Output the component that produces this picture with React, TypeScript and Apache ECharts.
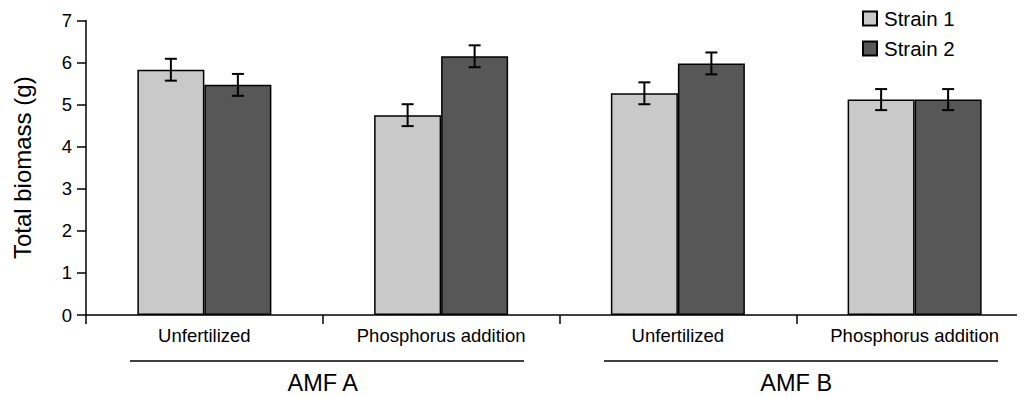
import React, { useEffect, useRef } from "react";
import * as echarts from "echarts";

const categories = ["Unfertilized", "Phosphorus addition", "Unfertilized", "Phosphorus addition"];
const groups = ["AMF A", "AMF B"];
const strain1 = [5.83, 4.75, 5.27, 5.12];
const strain2 = [5.47, 6.15, 5.98, 5.12];
const err1 = [0.26, 0.26, 0.26, 0.25];
const err2 = [0.26, 0.26, 0.26, 0.25];
const yTicks = { min: 0, max: 7, interval: 1 };

const BAR_W = 67;
const FONT = "Liberation Sans, Arial, Helvetica, sans-serif";

function errSeries(name: string, vals: number[], errs: number[], offset: number) {
  return {
    type: "custom",
    name,
    z: 5,
    silent: true,
    data: vals.map((v, i) => [i, v - errs[i], v + errs[i]]),
    encode: { x: 0, y: [1, 2] },
    renderItem: (params: any, api: any) => {
      const i = api.value(0);
      const lo = api.coord([i, api.value(1)]);
      const hi = api.coord([i, api.value(2)]);
      const x = lo[0] + offset;
      const cap = 6;
      const style = { stroke: "#000", lineWidth: 2 };
      return {
        type: "group",
        children: [
          { type: "line", shape: { x1: x, y1: lo[1], x2: x, y2: hi[1] }, style },
          { type: "line", shape: { x1: x - cap, y1: lo[1], x2: x + cap, y2: lo[1] }, style },
          { type: "line", shape: { x1: x - cap, y1: hi[1], x2: x + cap, y2: hi[1] }, style },
        ],
      };
    },
  };
}

export default function App() {
  const ref = useRef<HTMLDivElement>(null);
  useEffect(() => {
    if (!ref.current) return;
    const chart = echarts.init(ref.current, null, { renderer: "svg" });
    chart.setOption({
      animation: false,
      textStyle: { fontFamily: FONT, color: "#000" },
      grid: { left: 78, right: -8, top: 12.5, bottom: 82, containLabel: false, outerBoundsMode: "none" },
      legend: {
        orient: "vertical",
        left: 854,
        top: 0,
        padding: 0,
        itemWidth: 14,
        itemHeight: 14,
        itemGap: 9,
        icon: "rect",
        data: ["Strain 1", "Strain 2"],
        textStyle: { fontSize: 20.5, color: "#000", fontFamily: FONT, lineHeight: 20, padding: [0, 0, 0, 2] },
      },
      xAxis: [
        {
          type: "category",
          data: categories,
          position: "bottom",
          axisLine: { lineStyle: { color: "#000", width: 1.5 } },
          axisTick: { show: true, length: 9, lineStyle: { color: "#000", width: 1.5 } },
          axisLabel: { interval: 0, fontSize: 18.5, color: "#000", margin: 11, fontFamily: FONT },
        },
        {
          type: "category",
          data: groups,
          position: "bottom",
          axisLine: { show: false },
          axisTick: { show: false },
          axisLabel: { interval: 0, fontSize: 23.5, lineHeight: 17, color: "#000", margin: 59, fontFamily: FONT },
        },
      ],
      yAxis: {
        type: "value",
        min: yTicks.min,
        max: yTicks.max,
        interval: yTicks.interval,
        name: "Total biomass (g)",
        nameLocation: "middle",
        nameGap: 52,
        nameTextStyle: { fontSize: 24, color: "#000", fontFamily: FONT },
        axisLine: { show: true, lineStyle: { color: "#000", width: 1.5 } },
        axisTick: { show: true, length: 9, lineStyle: { color: "#000", width: 1.5 } },
        axisLabel: { fontSize: 18.5, color: "#000", margin: 14, fontFamily: FONT },
        splitLine: { show: false },
      },
      graphic: [
        { type: "line", shape: { x1: 122, y1: 353, x2: 516, y2: 353 }, style: { stroke: "#000", lineWidth: 1.5 } },
        { type: "line", shape: { x1: 596, y1: 353, x2: 990, y2: 353 }, style: { stroke: "#000", lineWidth: 1.5 } },
      ],
      series: [
        {
          type: "bar",
          name: "Strain 1",
          data: strain1,
          barWidth: BAR_W,
          barGap: "0%",
          itemStyle: { color: "#c9c9c9", borderColor: "#000", borderWidth: 1.5 },
        },
        {
          type: "bar",
          name: "Strain 2",
          data: strain2,
          barWidth: BAR_W,
          barGap: "0%",
          itemStyle: { color: "#575757", borderColor: "#000", borderWidth: 1.5 },
        },
        errSeries("err1", strain1, err1, -BAR_W / 2),
        errSeries("err2", strain2, err2, BAR_W / 2),
      ],
    });
    return () => chart.dispose();
  }, []);
  return <div ref={ref} style={{ width: 1017, height: 389 }} />;
}
